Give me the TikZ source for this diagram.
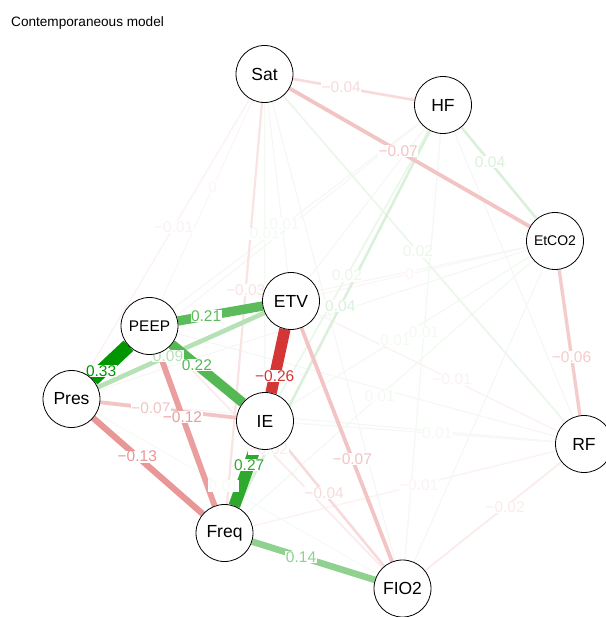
\documentclass[tikz,border=0pt]{standalone}
\usepackage{fontspec}
\setmainfont{Liberation Sans}
\definecolor{poscol}{RGB}{0,150,0}
\definecolor{negcol}{RGB}{200,0,0}

\pgfdeclarelayer{edges}
\pgfsetlayers{edges,main}

\tikzset{
  var/.style={circle, draw, fill=white, line width=0.8pt, minimum size=57pt, inner sep=0pt,
    font=\fontsize{17.5}{20}\selectfont},
  wlabel/.style={fill=white, inner sep=0.5pt, font=\fontsize{15.5}{17}\selectfont}
}

% edges with a printed weight: from/to/weight/label position/text
\def\edgelist{Sat/PEEP/-0.004/0.45/0, EtCO2/ETV/-0.004/0.55/0,
  Sat/Pres/-0.01/0.47/−0.01, Sat/IE/0.01/0.46/0.01, HF/PEEP/0.01/0.54/0.01,
  EtCO2/IE/0.01/0.55/0.01, HF/FIO2/0.01/0.47/0.01, EtCO2/Freq/0.01/0.53/0.01,
  ETV/RF/-0.01/0.55/−0.01, IE/RF/0.01/0.54/0.01, Freq/RF/-0.01/0.54/−0.01,
  Pres/FIO2/0.006/0.46/0.01, Sat/RF/0.02/0.48/0.02, HF/IE/0.02/0.54/0.02,
  RF/FIO2/-0.02/0.435/−0.02, PEEP/FIO2/-0.02/0.47/−0.02, Sat/Freq/-0.03/0.47/−0.03,
  Sat/HF/-0.04/0.43/−0.04, HF/EtCO2/0.04/0.42/0.04, HF/Freq/0.04/0.47/0.04,
  IE/FIO2/-0.04/0.43/−0.04, EtCO2/RF/-0.06/0.57/−0.06, Sat/EtCO2/-0.07/0.46/−0.07,
  Pres/IE/-0.07/0.41/−0.07, ETV/FIO2/-0.07/0.55/−0.07, Pres/ETV/0.09/0.44/0.09,
  PEEP/Freq/-0.12/0.44/−0.12, Pres/Freq/-0.13/0.43/−0.13, Freq/FIO2/0.14/0.43/0.14,
  PEEP/ETV/0.21/0.40/0.21, PEEP/IE/0.22/0.41/0.22, ETV/IE/-0.26/0.625/−0.26,
  IE/Freq/0.27/0.39/0.27, PEEP/Pres/0.33/0.62/0.33}

\begin{document}
\begin{tikzpicture}[x=1pt, y=-1pt]
\useasboundingbox (0,0) rectangle (605,617);

\node[anchor=base west, inner sep=0pt, font=\fontsize{13.6}{15}\selectfont] (title) at (11,27) {Contemporaneous model};

% Variables
\node[var] (Sat) at (264.5,74) {Sat};
\node[var] (HF) at (443,105) {HF};
\node[var, font=\fontsize{14}{16}\selectfont] (EtCO2) at (555,241) {EtCO2};
\node[var] (ETV) at (291,301) {ETV};
\node[var, font=\fontsize{15.4}{17}\selectfont] (PEEP) at (149.5,326) {PEEP};
\node[var] (Pres) at (71.5,399) {Pres};
\node[var] (IE) at (265,421) {IE};
\node[var] (RF) at (584,444) {RF};
\node[var] (Freq) at (224.5,533) {Freq};
\node[var] (FIO2) at (402.5,588.5) {FIO2};

\begin{pgfonlayer}{edges}
% near-zero partial correlations, no readable weight
\foreach \va/\vb in {Sat/ETV, Sat/FIO2, HF/ETV, HF/Pres, HF/RF, EtCO2/Pres,
    EtCO2/FIO2, EtCO2/PEEP, PEEP/RF, Pres/RF, ETV/Freq} {
  \draw[line width=1pt, draw=black!4] (\va) -- (\vb);
}

% weighted edges, weakest first
\foreach \va/\vb/\w/\pos/\txt in \edgelist {
  \pgfmathtruncatemacro{\pc}{min(100,3+97*abs(\w)/0.33)}
  \pgfmathsetmacro{\lw}{1+40*abs(\w)}
  \ifdim \w pt<0pt \def\ec{negcol}\else\def\ec{poscol}\fi
  \draw[line width=\lw pt, draw=\ec!\pc!white] (\va) -- (\vb);
}

% weight labels
\foreach \va/\vb/\w/\pos/\txt in \edgelist {
  \pgfmathtruncatemacro{\pc}{min(100,3+97*abs(\w)/0.33)}
  \ifdim \w pt<0pt \def\ec{negcol}\else\def\ec{poscol}\fi
  \path (\va.center) -- (\vb.center) node[wlabel, pos=\pos, text=\ec!\pc!white] (w-\va-\vb) {\txt};
}
\end{pgfonlayer}

\end{tikzpicture}
\end{document}
